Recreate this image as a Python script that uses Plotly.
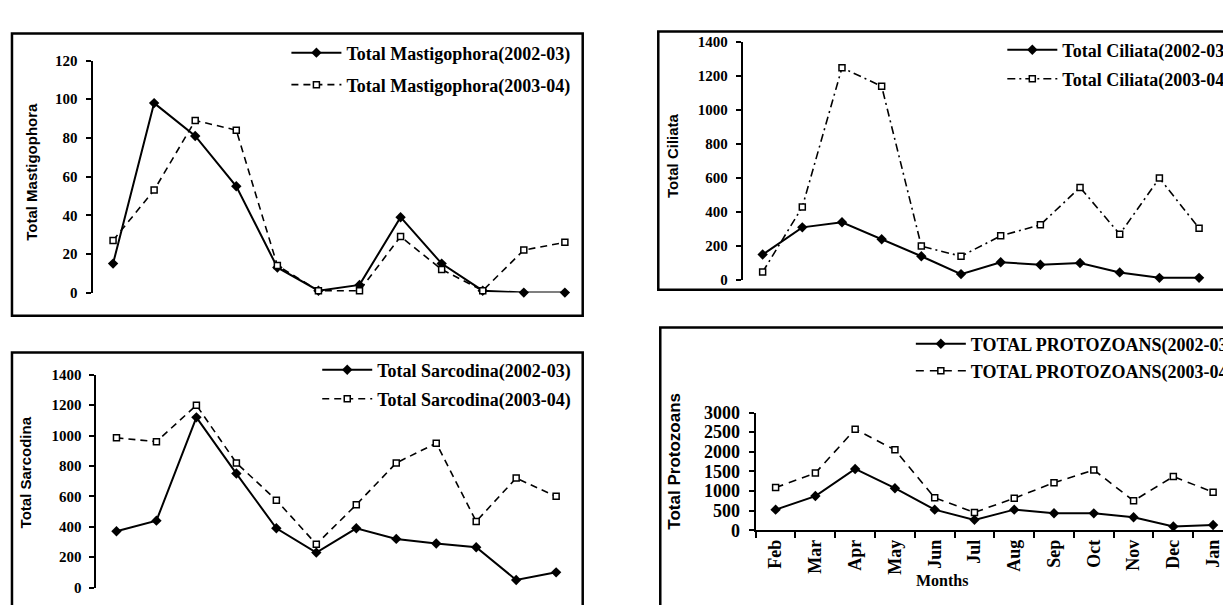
import plotly.graph_objects as go

# ---------------- data ----------------
months = ["Feb", "Mar", "Apr", "May", "Jun", "Jul", "Aug", "Sep", "Oct", "Nov", "Dec", "Jan"]

masti_0203 = [15, 98, 81, 55, 13, 1, 4, 39, 15, 1, 0, 0]
masti_0304 = [27, 53, 89, 84, 14, 1, 1, 29, 12, 1, 22, 26]

cil_0203 = [150, 310, 340, 240, 140, 35, 105, 90, 100, 45, 13, 13]
cil_0304 = [47, 430, 1250, 1140, 200, 140, 260, 325, 545, 270, 600, 305]

sarc_0203 = [370, 440, 1120, 750, 390, 230, 390, 320, 290, 265, 50, 100]
sarc_0304 = [985, 960, 1200, 820, 575, 285, 545, 820, 950, 435, 720, 600]

prot_0203 = [530, 875, 1565, 1075, 530, 270, 530, 440, 435, 335, 100, 140]
prot_0304 = [1090, 1460, 2575, 2050, 830, 460, 820, 1215, 1540, 755, 1370, 975]

# ---------------- helpers ----------------
W, H = 1231, 605
OFF_X, OFF_Y = 8, 0  # observed offset of the plot inside the rendered page
def px(x):
    return (x - OFF_X) / W
def py(y):
    return 1 - (y - OFF_Y) / H

SERIF = "Liberation Serif"
SANS = "Liberation Sans"

fig = go.Figure()

def add_pair(xa, ya, leg, name1, v1, name2, v2, dash2, grp):
    fig.add_trace(go.Scatter(
        x=months, y=v1, name=name1, xaxis=xa, yaxis=ya, legend=leg,
        legendgroup=grp + "a", mode="lines+markers", cliponaxis=False,
        line=dict(color="black", width=2),
        marker=dict(symbol="diamond", size=8, color="black"),
    ))
    fig.add_trace(go.Scatter(
        x=months, y=v2, name=name2, xaxis=xa, yaxis=ya, legend=leg,
        legendgroup=grp + "b", mode="lines+markers", cliponaxis=False,
        line=dict(color="black", width=1.6, dash=dash2),
        marker=dict(symbol="square", size=6, color="white",
                    line=dict(color="black", width=1.5)),
    ))

add_pair("x", "y", "legend", "Total Mastigophora(2002-03)", masti_0203,
         "Total Mastigophora(2003-04)", masti_0304, "7px,5px", "m")
add_pair("x2", "y2", "legend2", "Total Ciliata(2002-03)", cil_0203,
         "Total Ciliata(2003-04)", cil_0304, "8px,4px,2px,4px", "c")
add_pair("x3", "y3", "legend3", "Total Sarcodina(2002-03)", sarc_0203,
         "Total Sarcodina(2003-04)", sarc_0304, "7px,5px", "s")
add_pair("x4", "y4", "legend4", "TOTAL PROTOZOANS(2002-03)", prot_0203,
         "TOTAL PROTOZOANS(2003-04)", prot_0304, "8px,6px", "p")

tickfont = dict(family=SERIF, size=15, color="black", weight="bold")
tickfont4 = dict(family=SERIF, size=18, color="black", weight="bold")

def yax(dom_px, rng, dtick, font, anchor):
    return dict(domain=[py(dom_px[1]), py(dom_px[0])], range=rng, dtick=dtick,
                showline=True, linecolor="black", linewidth=2,
                ticks="outside", ticklen=5, tickwidth=2, tickcolor="black",
                tickfont=font, showgrid=False, zeroline=False, anchor=anchor,
                ticklabelstandoff=5)

def xax_hidden(dom_px, rng, anchor):
    return dict(domain=[px(dom_px[0]), px(dom_px[1])], range=rng, type="category",
                categoryorder="array", categoryarray=months,
                visible=False, showgrid=False, zeroline=False, anchor=anchor)

legfont = dict(family=SERIF, size=18, color="black", weight="bold")
def leg(xpx, ypx, gap):
    return dict(x=px(xpx), y=py(ypx), xanchor="left", yanchor="top",
                font=legfont, bgcolor="rgba(0,0,0,0)", borderwidth=0,
                itemwidth=50, tracegroupgap=gap, traceorder="grouped")

layout = dict(
    width=W, height=H, margin=dict(l=0, r=0, t=0, b=0),
    paper_bgcolor="white", plot_bgcolor="white", showlegend=True,
    xaxis=xax_hidden((93, 585), [-0.5, 11.41], "y"),
    yaxis=yax((44, 284), [0, 120], 20, tickfont, "x"),
    xaxis2=xax_hidden((747, 1239), [-0.5, 11.83], "y2"),
    yaxis2=yax((25, 271), [0, 1400], 200, tickfont, "x2"),
    xaxis3=xax_hidden((97, 585), [-0.5, 11.64], "y3"),
    yaxis3=yax((369, 589), [0, 1400], 200, tickfont, "x3"),
    xaxis4=dict(domain=[px(760), px(1239)], range=[-0.5, 11.475], type="category",
                categoryorder="array", categoryarray=months,
                showline=True, linecolor="black", linewidth=2,
                ticks="outside", tickson="boundaries", ticklen=6, tickwidth=2,
                tickcolor="black", tickangle=-90, tickfont=tickfont4,
                showgrid=False, zeroline=False, anchor="y4"),
    yaxis4=yax((408, 530), [0, 3000], 500, tickfont4, "x4"),
    legend=leg(288, 17, 5.6),
    legend2=leg(1008, 14, 2.6),
    legend3=leg(319, 345, 2.6),
    legend4=leg(916, 318, 0.6),
)
fig.update_layout(**layout)

# panel frames
frames = [(12, 16, 586, 308), (662, 14, 1250, 281), (12, 346, 586, 625), (664, 320, 1250, 625)]
for x0, y0, x1, y1 in frames:
    fig.add_shape(type="rect", xref="paper", yref="paper",
                  x0=px(x0), x1=px(x1), y0=py(y1), y1=py(y0),
                  line=dict(color="black", width=2.5), fillcolor="rgba(0,0,0,0)",
                  layer="above")

# axis titles
ytitles = [("Total Mastigophora", 31.6, 232, 15), ("Total Ciliata", 676.5, 188, 15),
           ("Total Sarcodina", 26, 530, 15), ("Total Protozoans", 678.5, 531, 17)]
for txt, xc, yb, fs in ytitles:
    fig.add_annotation(text=txt, xref="paper", yref="paper", x=px(xc), y=py(yb),
                       xanchor="center", yanchor="bottom", textangle=-90, showarrow=False,
                       font=dict(family=SANS, size=fs, color="black", weight="bold"))

fig.add_annotation(text="Months", xref="paper", yref="paper", x=px(947), y=py(582),
                   xanchor="center", yanchor="middle", showarrow=False,
                   font=dict(family=SERIF, size=16, color="black", weight="bold"))

fig.write_html("out.html")
